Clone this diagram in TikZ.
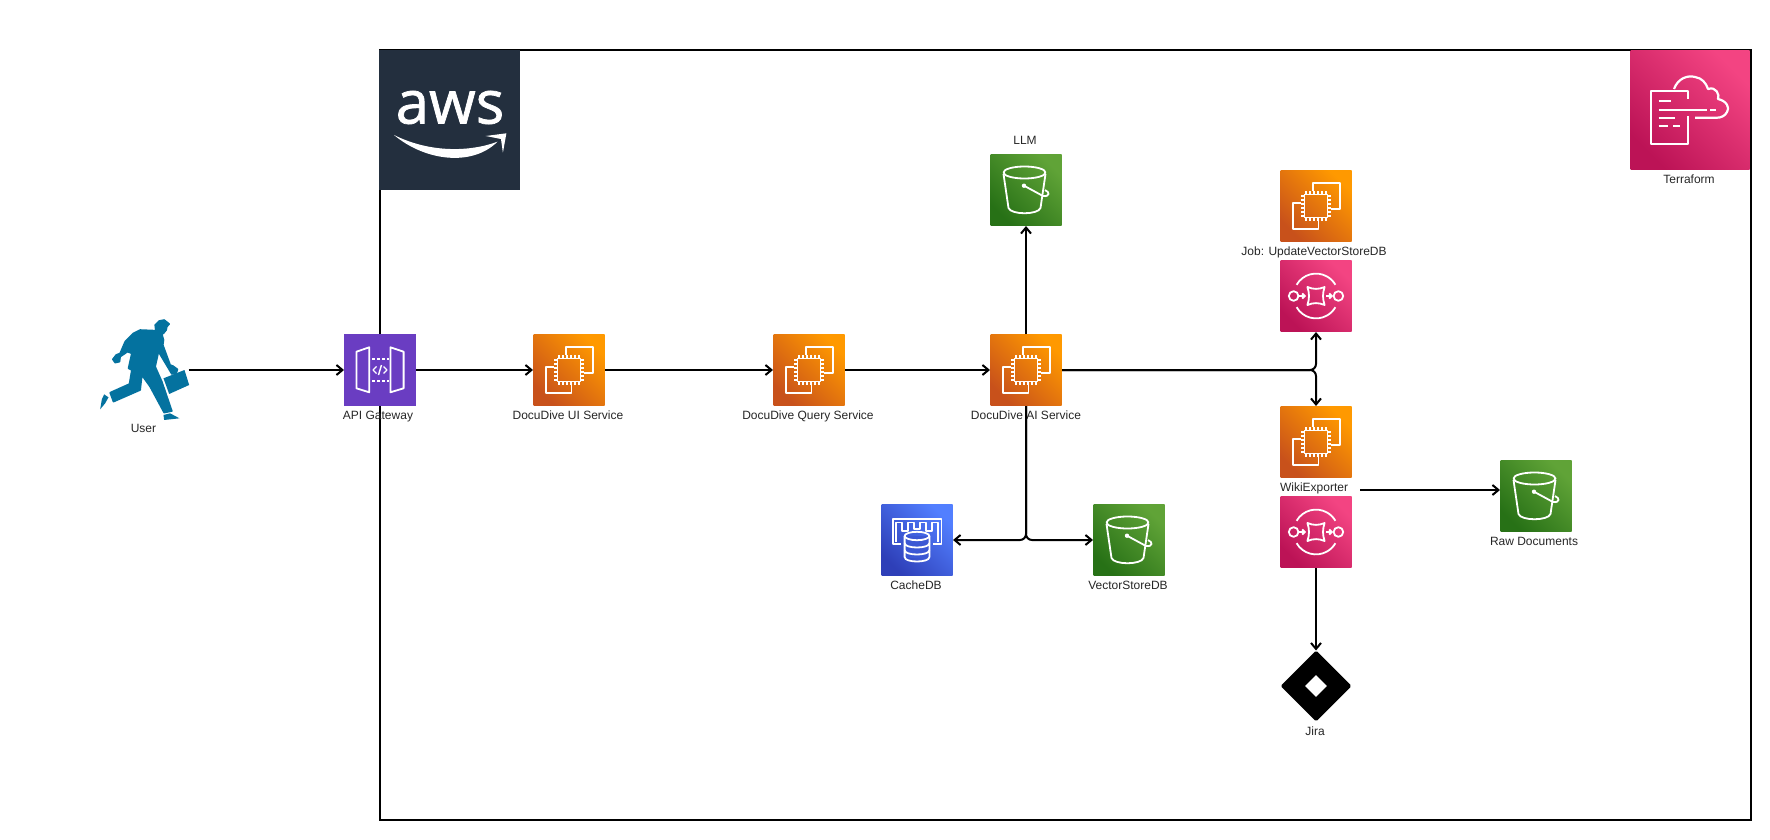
\documentclass[tikz,border=0pt]{standalone}
\usepackage{fontspec}
\setmainfont{Liberation Sans}
\newfontfamily\logofont[FakeBold=1.2]{Open Sans}
\usetikzlibrary{arrows.meta,shapes.geometric}

\definecolor{computedark}{HTML}{C8511B}
\definecolor{computelight}{HTML}{FF9900}
\definecolor{queuedark}{HTML}{BC1356}
\definecolor{queuelight}{HTML}{F34482}
\definecolor{bucketdark}{HTML}{277116}
\definecolor{bucketlight}{HTML}{60A337}
\definecolor{cachedark}{HTML}{2E3FB8}
\definecolor{cachelight}{HTML}{527FFF}
\definecolor{gatewayfill}{HTML}{6A3DC2}
\definecolor{awsfill}{HTML}{232F3E}
\definecolor{runnerfill}{HTML}{04729F}

\tikzset{
    icon line/.style={draw=white,line width=1.8pt,line join=round},
    chip/.pic={
        \draw[icon line] (-2.8,-15) -- (-2.8,-23.3) -- (23.8,-23.3) -- (23.8,3.3) -- (14.5,3.3);
        \draw[icon line] (-14.9,-2.7) -- (-23.4,-2.7) -- (-23.4,22.7) -- (2.4,22.7) -- (2.4,14);
        \draw[icon line] (-11.5,-11.5) rectangle (11.5,11.5);
        \foreach \pin in {-10,-6,-2,2,6,10}{
            \draw[icon line,line width=1.4pt] (\pin,-15) -- (\pin,-11.5) (\pin,11.5) -- (\pin,15);
            \draw[icon line,line width=1.4pt] (-15,\pin) -- (-11.5,\pin) (11.5,\pin) -- (15,\pin);
        }
    },
    bucket/.pic={
        \draw[icon line] (-1.5,-17.5) ellipse (21 and 6);
        \draw[icon line] (-22.5,-16) -- (-17.5,18) .. controls (-15,25) and (12,25) .. (14.5,18) -- (19.5,-16);
        \draw[icon line] (-2,-4.3) -- (17,6) .. controls (24,7) and (24,2) .. (19,0);
        \fill[white] (-2,-4.3) circle (2.2);
    },
    sqsicon/.pic={
        \draw[icon line] (-19.4,-11.2) arc[start angle=210,end angle=330,radius=22.4];
        \draw[icon line] (-19.4,11.2) arc[start angle=150,end angle=30,radius=22.4];
        \draw[icon line] (-22.4,0) circle (4.8) (22.4,0) circle (4.8);
        \draw[icon line] (-8.6,-9) .. controls (-3,-6.5) and (3,-6.5) .. (8.6,-9)
            .. controls (6.5,-3) and (6.5,3) .. (8.6,9)
            .. controls (3,6.5) and (-3,6.5) .. (-8.6,9)
            .. controls (-6.5,3) and (-6.5,-3) .. (-8.6,-9) -- cycle;
        \draw[icon line,-{Straight Barb[length=2.5pt,width=5pt]}] (-17,0) -- (-10,0);
        \draw[icon line,-{Straight Barb[length=2.5pt,width=5pt]}] (10,0) -- (17,0);
    },
    gate/.pic={
        \draw[icon line] (-23.6,-18.3) -- (-10.7,-22.7) -- (-10.7,22.3) -- (-23.6,18.3) -- cycle;
        \draw[icon line] (10.4,-22.7) -- (23.6,-18.3) -- (23.6,18.3) -- (10.4,22.3) -- cycle;
        \draw[icon line,dash pattern=on 2.5pt off 2.5pt] (-8,-11) -- (9,-11) (-8,10.7) -- (9,10.7);
        \draw[icon line,line width=1.4pt] (-3.5,-3.5) -- (-7,0) -- (-3.5,3.5);
        \draw[icon line,line width=1.4pt] (3.5,-3.5) -- (7,0) -- (3.5,3.5);
        \draw[icon line,line width=1.4pt] (1.5,-5) -- (-1.5,5);
    },
    memory/.pic={
        \draw[icon line] (-16,4.3) -- (-24.4,4.3) -- (-24.4,-21) -- (24.4,-21) -- (24.4,4.3) -- (16,4.3);
        \draw[icon line] (-21,1.5) -- (-21,-17.5) -- (-15,-17.5) -- (-15,-9) -- (-9,-9) -- (-9,-17.5)
            -- (-3,-17.5) -- (-3,-11) -- (3,-11) -- (3,-17.5) -- (9,-17.5) -- (9,-9) -- (15,-9) -- (15,-17.5) -- (21,-17.5) -- (21,1.5);
        \fill[cachedark!60!cachelight] (-12.4,-4) rectangle (12.4,18);
        \draw[icon line] (0,-4) ellipse (12.4 and 4.2);
        \draw[icon line] (-12.4,-4) -- (-12.4,17) .. controls (-12.4,23) and (12.4,23) .. (12.4,17) -- (12.4,-4);
        \draw[icon line] (-12.4,3) .. controls (-12.4,9) and (12.4,9) .. (12.4,3);
        \draw[icon line] (-12.4,10) .. controls (-12.4,16) and (12.4,16) .. (12.4,10);
    },
    cloudform/.pic={
        \draw[icon line,line width=2.2pt] (-2.3,-11) -- (-2.3,-19) -- (-39.3,-19) -- (-39.3,34.3) -- (-2.3,34.3) -- (-2.3,6);
        \draw[icon line,line width=2.2pt] (-31.5,-8.7) -- (-19,-8.7);
        \draw[icon line,line width=2.2pt] (-31.5,-0.3) -- (17,-0.3) (20,-0.3) -- (26,-0.3);
        \draw[icon line,line width=2.2pt] (-31.5,7.7) -- (-15,7.7);
        \draw[icon line,line width=2.2pt] (-31.5,16) -- (-22,16) (-17,16) -- (-10,16);
        \draw[icon line,line width=2.2pt] (-16,-21) .. controls (-12,-32) and (-2,-35) .. (5,-33)
            .. controls (12,-32) and (16,-27) .. (18,-21)
            .. controls (26,-24) and (30,-15) .. (28,-11)
            .. controls (37,-9) and (40,-2) .. (37,2)
            .. controls (35,6) and (31,7.7) .. (27,7.7) -- (5,7.7);
    },
    runner/.pic={
        \begin{scope}[x=0.3333pt,y=-0.3333pt,shift={(-160,-180)}]
            \filldraw[draw=runnerfill,fill=runnerfill,line width=1.6pt,line join=round] (197,62) -- (195,45) -- (207,33) -- (222,30) -- (237,42) -- (230,50) -- (228,60)
                -- (220,70) -- (215,72) -- (220,90) -- (218,105) -- (240,165) -- (248,168) -- (262,178) -- (258,190)
                -- (245,192) -- (235,175) -- (205,125) -- (195,170) -- (215,215) -- (245,303) -- (222,308) -- (180,230)
                -- (155,195) -- (150,240) -- (70,275) -- (60,248) -- (118,222) -- (125,180) -- (115,175) -- (125,130)
                -- (112,125) -- (90,140) -- (88,155) -- (75,158) -- (68,148) -- (78,135) -- (90,130) -- (105,95)
                -- (130,70) -- (150,60) -- cycle;
            \fill[runnerfill] (220,205) -- (283,180) -- (297,225) -- (237,252) -- cycle;
            \fill[runnerfill] (220,315) -- (240,310) -- (268,325) -- (222,330) -- cycle;
            \fill[runnerfill] (42,253) -- (55,262) -- (45,280) -- (30,298) -- (35,268) -- cycle;
        \end{scope}
    },
}

\begin{document}
\begin{tikzpicture}[x=1pt,y=-1pt,>={Straight Barb[length=6pt,width=10pt]},
    flow/.style={->,line width=2pt},
    tile/.style={minimum size=72pt,inner sep=0pt,outer sep=0pt},
    shaded tile/.style={minimum size=71pt,inner sep=0pt,outer sep=0.5pt},
    compute node/.style={shaded tile,left color=computedark,right color=computelight,shading angle=135},
    queue node/.style={shaded tile,left color=queuedark,right color=queuelight,shading angle=135},
    bucket node/.style={shaded tile,left color=bucketdark,right color=bucketlight,shading angle=135},
    cache node/.style={shaded tile,left color=cachedark,right color=cachelight,shading angle=135},
    caption/.style={font=\fontsize{12pt}{14pt}\selectfont,text=black!85,inner sep=0pt,text height=8.6pt,text depth=2.6pt},
    node distance=46pt]

    \useasboundingbox (0,0) rectangle (1770,840);

    \node[draw,line width=2pt,minimum width=1371pt,minimum height=770pt,inner sep=0pt] (frame) at (1065,435) {};

    \node[fill=awsfill,minimum width=141pt,minimum height=140pt,inner sep=0pt] (awsbox) at (449.5,120) {};
    \node[text=white,inner sep=0pt,font=\logofont\fontsize{60pt}{60pt}\selectfont] (awstext) at (450,107.5) {aws};
    \fill[white] (394,135) .. controls (425,161) and (472,167) .. (497.5,141.7)
        .. controls (470,152) and (430,153) .. (394,135) -- cycle;
    \fill[white] (485.7,136) -- (506.4,133.3) -- (502.9,152.7) -- (501,139) -- cycle;

    \node[queue node,minimum width=119pt,minimum height=119.5pt] (terraform) at (1690,110) {};
    \pic at (terraform) {cloudform};
    \node[caption,xshift=-1pt] (terraformtxt) [below of = terraform,node distance=70pt]{Terraform};

    \node[minimum width=90pt,minimum height=100pt,inner sep=0pt,outer sep=0pt] (user) at (143.5,370) {};
    \pic at (user) {runner};
    \node[caption] (usertxt) [below of = user,node distance=59pt]{User};

    \node[tile,fill=gatewayfill] (gateway) at (380,370) {};
    \node[compute node] (ui) [right of = gateway,node distance=189pt]{};
    \node[compute node] (query) [right of = ui,node distance=240pt]{};
    \node[compute node] (ai) [right of = query,node distance=217pt]{};
    \node[bucket node] (llm) [above of = ai,node distance=180pt]{};
    \node[compute node] (job) at (1316,206) {};
    \node[queue node] (jobqueue) [below of = job,node distance=90pt]{};
    \node[compute node] (wiki) at (1316,442) {};
    \node[queue node] (wikiqueue) [below of = wiki,node distance=90pt]{};
    \node[bucket node] (raw) at (1536,496) {};
    \node[cache node] (cache) at (917,540) {};
    \node[bucket node] (vector) at (1129,540) {};
    \node[diamond,fill=black,draw=black,line width=3pt,line join=round,aspect=1,minimum size=68pt,inner sep=0pt,outer sep=1.5pt] (jira) at (1316,686) {};
    \node[diamond,fill=white,aspect=1,minimum size=22pt,inner sep=0pt] (jirahole) at (jira) {};

    \pic at (gateway) {gate};
    \pic at (cache) {memory};
    \foreach \curr in {ui,query,ai,job,wiki}{
        \pic at (\curr) {chip};
    }
    \foreach \curr in {llm,raw,vector}{
        \pic at (\curr) {bucket};
    }
    \foreach \curr in {jobqueue,wikiqueue}{
        \pic at (\curr) {sqsicon};
    }

    \node[caption,xshift=-2pt] (gatewaytxt) [below of = gateway]{API Gateway};
    \node[caption,xshift=-1pt] (uitxt) [below of = ui]{DocuDive UI Service};
    \node[caption,xshift=-1pt] (querytxt) [below of = query]{DocuDive Query Service};
    \node[caption] (aitxt) [below of = ai]{DocuDive AI Service};
    \node[caption,xshift=-1pt] (llmtxt) [above of = llm,node distance=48pt]{LLM};
    \node[caption,xshift=-2pt] (jobtxt) [below of = job]{Job: UpdateVectorStoreDB};
    \node[caption,xshift=-2pt] (wikitxt) [below of = wiki]{WikiExporter};
    \node[caption,xshift=-2pt] (rawtxt) [below of = raw]{Raw Documents};
    \node[caption,xshift=-1pt] (cachetxt) [below of = cache]{CacheDB};
    \node[caption,xshift=-1pt] (vectortxt) [below of = vector]{VectorStoreDB};
    \node[caption,xshift=-1pt] (jiratxt) [below of = jira]{Jira};

    \coordinate (wikiout) at (1360,490);

    \path[flow]
        (user) edge (gateway)
        (gateway) edge (ui)
        (ui) edge (query)
        (query) edge (ai)
        (ai) edge (llm)
        (wikiqueue) edge (jira)
        (wikiout) edge (wikiout -| raw.west)
    ;

    \draw[flow,rounded corners=6pt] (ai) -| (jobqueue);
    \draw[flow,rounded corners=6pt] (ai) -| (wiki);
    \draw[flow,rounded corners=6pt] (ai) |- (cache);
    \draw[flow,rounded corners=6pt] (ai) |- (vector);

\end{tikzpicture}
\end{document}
